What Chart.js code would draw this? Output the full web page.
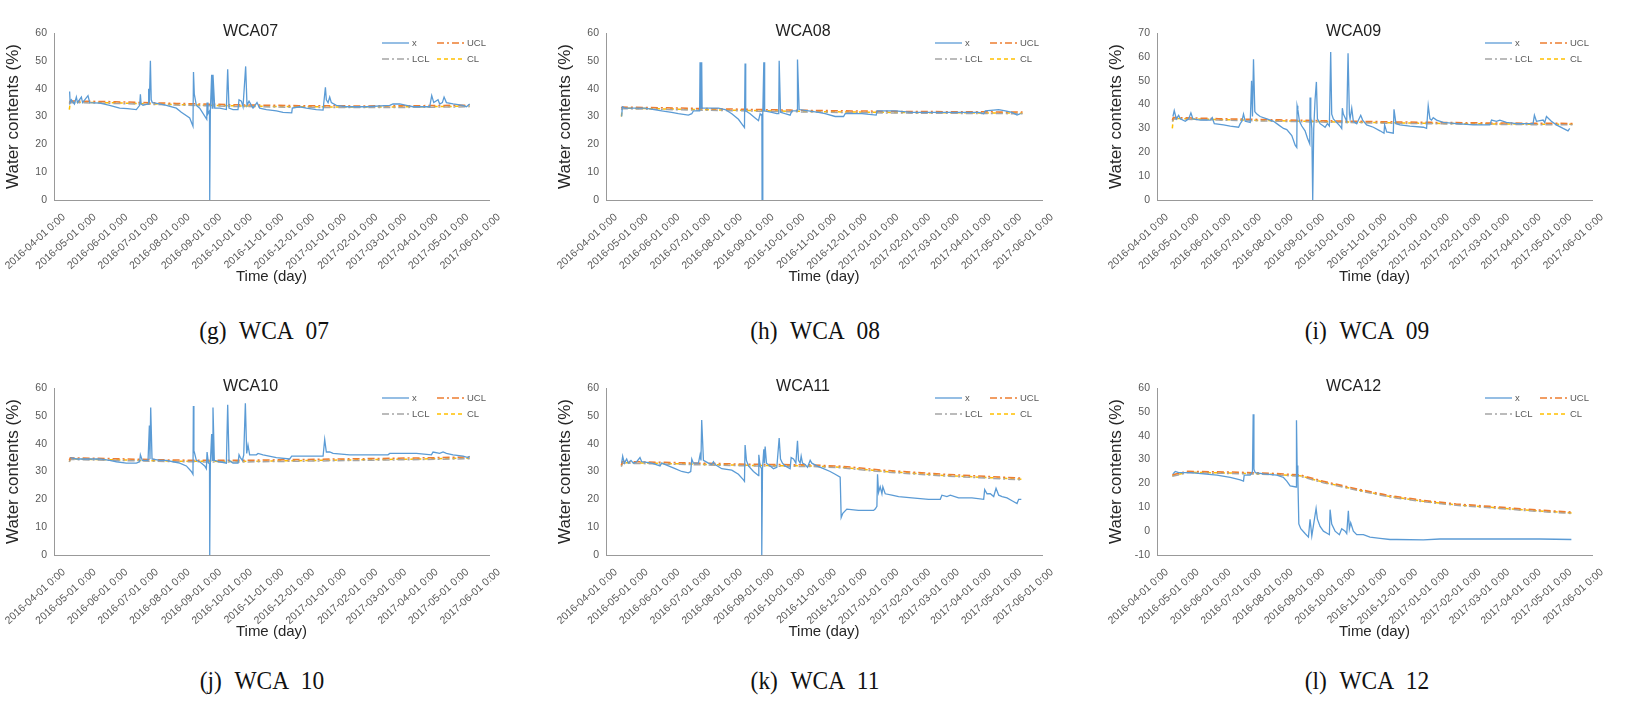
<!DOCTYPE html>
<html>
<head>
<meta charset="utf-8">
<script src="https://cdn.jsdelivr.net/npm/chart.js@4.4.0/dist/chart.umd.min.js"></script>
<style>
  html, body { margin: 0; padding: 0; background: #fff; }
  body { width: 1635px; height: 720px; position: relative; overflow: hidden; }
  .panel { position: absolute; width: 545px; height: 300px; }
  .caption {
    position: absolute; transform: translateX(-50%) scaleX(0.9); white-space: nowrap;
    font-family: "Liberation Serif", "DejaVu Serif", serif; font-size: 26px;
    word-spacing: 8px; line-height: 1; color: #111;
  }
</style>
</head>
<body>
<div class="panel" style="left:0;top:0"><canvas id="wca07" width="545" height="300"></canvas></div>
<div class="panel" style="left:545px;top:0"><canvas id="wca08" width="545" height="300"></canvas></div>
<div class="panel" style="left:1090px;top:0"><canvas id="wca09" width="545" height="300"></canvas></div>
<div class="panel" style="left:0;top:355px"><canvas id="wca10" width="545" height="300"></canvas></div>
<div class="panel" style="left:545px;top:355px"><canvas id="wca11" width="545" height="300"></canvas></div>
<div class="panel" style="left:1090px;top:355px"><canvas id="wca12" width="545" height="300"></canvas></div>

<div class="caption" style="left:264px;top:318px">(g) WCA 07</div>
<div class="caption" style="left:815px;top:318px">(h) WCA 08</div>
<div class="caption" style="left:1367px;top:318px">(i) WCA 09</div>
<div class="caption" style="left:262px;top:668px">(j) WCA 10</div>
<div class="caption" style="left:815px;top:668px">(k) WCA 11</div>
<div class="caption" style="left:1367px;top:668px">(l) WCA 12</div>

<script>
// x axis: days since 2016-04-01, one tick per month start
const monthDays = [0, 30, 61, 91, 122, 153, 183, 214, 244, 275, 306, 334, 365, 395, 426];
const monthLabels = [
    '2016-04-01 0:00', '2016-05-01 0:00', '2016-06-01 0:00', '2016-07-01 0:00', '2016-08-01 0:00',
    '2016-09-01 0:00', '2016-10-01 0:00', '2016-11-01 0:00', '2016-12-01 0:00', '2017-01-01 0:00',
    '2017-02-01 0:00', '2017-03-01 0:00', '2017-04-01 0:00', '2017-05-01 0:00', '2017-06-01 0:00'
];
const legendNames = ['x', 'UCL', 'LCL', 'CL'];

// WCA07
const days07 = [
    15.3, 15.8, 17, 20, 21.9, 23, 26.8, 28, 33.3, 35,
    45, 54.5, 64.3, 72, 80.6, 83.9, 84.6, 85.3, 87.2, 92.2,
    92.7, 93.4, 94.4, 95.2, 96.3, 103.5, 110, 119.8, 124.7, 132.9,
    136.1, 136.6, 137.4, 139.4, 142.7, 149.6, 149.9, 150.8, 152.3, 152.5,
    153.1, 154.4, 155, 155.7, 157.4, 162.3, 168.8, 170.1, 171.4, 175.3,
    180.2, 181.2, 183.5, 185.1, 187.7, 189, 191, 193.3, 194.9, 198.8,
    201.4, 208, 217.8, 224.3, 232.8, 233.4, 240.6, 247.1, 256.9, 263.5,
    265.8, 266.7, 268.4, 270, 271.6, 276.5, 286.3, 305.9, 328.8, 332,
    338.6, 345.1, 351.6, 367.9, 369.9, 371.9, 376.1, 377.7, 380.3, 382,
    384.3, 390.8, 400.6, 403.9, 407.1
];
const water07 = [
    39, 35, 36, 34.5, 37, 35, 37, 35, 37.5, 35,
    34.8, 34, 33, 32.8, 32.5, 34, 38, 34.5, 34, 34.5,
    40, 35, 50, 36, 35, 34.5, 34, 33, 31.5, 29.5,
    26.5, 46, 38, 34, 33, 29, 35, 31, 32, 0,
    32, 45, 33, 45, 33, 33, 32.5, 47, 33, 32.5,
    32.5, 36, 35.5, 33.5, 48, 34, 35.5, 34, 33, 35,
    33, 32.5, 32, 31.5, 31.3, 33, 33.5, 33, 32.5, 32.3,
    40.5, 36, 35, 37, 35, 34, 33.5, 33.5, 34, 34.5,
    34.5, 34, 33.5, 33.5, 37.5, 35, 36, 34.5, 35, 37,
    35, 34.5, 34, 33.5, 34.5
];
const ctrlDays07 = [15, 16, 60, 120, 180, 240, 300, 360, 407];
const ucl07 = [35.0, 35.6, 35.3, 34.7, 34.2, 33.9, 33.8, 33.9, 34.1];
const lcl07 = [34.4, 35.0, 34.7, 34.1, 33.6, 33.3, 33.2, 33.3, 33.5];
const cl07 = [32.5, 35.2, 34.9, 34.3, 33.8, 33.5, 33.4, 33.5, 33.7];

// WCA08
const days08 = [
    15.3, 16, 18.6, 38.1, 54.4, 64.2, 70.7, 80.5, 83.8, 85.4,
    90.3, 91.5, 91.9, 92.3, 93.1, 93.5, 93.9, 95.2, 103.3, 109.8,
    116.4, 122.9, 129.4, 135.3, 135.9, 136.5, 140.8, 145.7, 149, 150.6,
    151.6, 152.3, 152.5, 153.2, 154.2, 154.5, 154.8, 155.2, 162, 166.9,
    168.8, 169.2, 170.5, 175, 179.9, 181.6, 184.8, 186.7, 187.1, 188.7,
    197.8, 207.6, 214.1, 223.9, 232.1, 233.7, 250, 264, 265, 282.6,
    298.9, 331.5, 364.1, 369, 370.6, 383.6, 390.2, 396.7, 401.6, 404.9
];
const water08 = [
    30, 33.5, 33, 33, 32, 31.5, 31, 30.5, 31, 32,
    32, 32, 49.5, 33, 33, 49.5, 33, 33, 33, 33,
    32.5, 31, 29, 26, 49, 32, 31, 29.5, 28.5, 31,
    30.5, 31, 0, 31, 49.5, 32, 49.5, 32, 31.5, 31,
    31, 50, 31.5, 31, 30.5, 32, 32, 32, 50.5, 32.5,
    32, 31.5, 31, 30, 30, 31, 31, 30.5, 32, 32,
    31.5, 31.5, 31.5, 31, 32, 32.5, 32, 31.5, 30.5, 31
];
const ctrlDays08 = [15, 16, 60, 120, 180, 240, 300, 360, 407];
const ucl08 = [33.0, 33.4, 33.1, 32.7, 32.3, 32.0, 31.8, 31.7, 31.6];
const lcl08 = [32.4, 32.8, 32.5, 32.1, 31.7, 31.4, 31.2, 31.1, 31.0];
const cl08 = [30.0, 33.0, 32.7, 32.3, 31.9, 31.6, 31.4, 31.3, 31.2];

// WCA09
const days09 = [
    15.6, 16.9, 18.9, 21.2, 22.8, 27.7, 31, 33.2, 35.2, 42.4,
    52.2, 54.1, 56.1, 65.2, 71.7, 79.9, 81.5, 83.1, 84.7, 86.4,
    91.3, 92.6, 93.5, 94.5, 95.8, 97.8, 101, 107.6, 114.1, 119,
    123.9, 127.1, 132, 135.3, 136.9, 137.2, 137.9, 139.5, 141.8, 145,
    147.3, 149.6, 149.9, 150.6, 151.6, 152.5, 153.5, 154.8, 156.1, 157.1,
    159.7, 163, 164.6, 166.9, 168.8, 170.1, 171.1, 172.7, 179.3, 180.9,
    181.5, 182.5, 184.2, 185.8, 187.1, 188.4, 189.1, 190.7, 192.3, 195.6,
    199.5, 201.4, 205.3, 211.9, 218.4, 222.3, 222.9, 224.9, 231.4, 232.1,
    234, 237.9, 247.7, 260.8, 264, 265.6, 267.3, 268.9, 270.5, 273.8,
    280.3, 293.4, 309.6, 325.9, 327.6, 332.5, 335.7, 342.2, 352, 368.3,
    369.6, 371.6, 378.1, 379.7, 381.4, 386.2, 391.1, 397.7, 402.5, 404.2
];
const water09 = [
    35, 37.5, 34, 35.5, 34, 33, 34, 36.5, 34, 33.5,
    33.5, 34.5, 32, 31.5, 31, 30.5, 32, 33, 36, 33,
    32.5, 50, 35, 59, 37, 36, 35, 34, 33, 31.5,
    30, 29.5, 27, 23, 22, 39.5, 38, 33, 31, 29,
    26, 23.5, 43, 35, 30, 0, 30, 42, 49.5, 34,
    32, 31, 30.5, 32, 31, 62, 36, 34, 31, 30,
    38.5, 36, 34.5, 33, 61.5, 36, 34, 38.5, 33, 32,
    35.5, 33.5, 31.5, 30.5, 29, 28, 31.5, 28.5, 28, 38,
    32, 31.5, 31, 30.5, 30, 39.5, 34, 33.5, 34.5, 33.5,
    32.5, 32, 31.5, 31.5, 33.5, 33, 33.5, 32.5, 32, 32,
    35.5, 33, 33.5, 32.5, 35, 33, 31.5, 30, 29, 30
];
const ctrlDays09 = [15, 16, 60, 120, 180, 240, 300, 360, 407];
const ucl09 = [33.5, 34.6, 34.1, 33.6, 33.1, 32.7, 32.4, 32.2, 32.1];
const lcl09 = [32.9, 34.0, 33.5, 33.0, 32.5, 32.1, 31.8, 31.6, 31.5];
const cl09 = [30.0, 34.2, 33.7, 33.2, 32.7, 32.3, 32.0, 31.8, 31.7];

// WCA10
const days10 = [
    16, 21.9, 44.7, 54.5, 61.1, 70.8, 80.6, 83.9, 84.6, 86.5,
    92.1, 93.4, 94, 94.7, 96, 103.5, 110, 116.6, 123.1, 129.6,
    134.5, 136.1, 136.5, 137, 137.4, 139.4, 142.7, 147.6, 149.2, 149.9,
    151.2, 152.3, 152.5, 153.1, 154.4, 155, 155.7, 157, 162.3, 168.8,
    170.1, 171.4, 175.3, 180.2, 181.2, 182.5, 184.5, 185.8, 187.4, 188.7,
    190, 191.6, 198.2, 199.8, 204.7, 217.8, 230.8, 232.8, 240.6, 263.5,
    265.1, 266.7, 270, 273.3, 289.6, 305.9, 327.1, 328.8, 354.9, 369.6,
    371.2, 377.7, 381, 384.3, 390.8, 400.6, 405.5, 407.1
];
const water10 = [
    35, 34.5, 34.5, 34, 33.5, 33, 33, 33.5, 36, 34,
    34, 46.5, 34.5, 53, 34.5, 34, 34, 33.5, 33, 32,
    30, 29, 53.5, 37, 37, 34, 33.5, 32, 31, 37,
    33, 33, 0, 33, 43.5, 34, 53, 34, 33.5, 33,
    54, 34, 33, 33, 36, 35, 34, 36, 54.5, 36.5,
    39.5, 36, 36, 36.5, 36, 35, 34.5, 35.5, 35.5, 35.5,
    41.5, 37, 37, 36.5, 36, 36, 36, 36.5, 36.5, 36,
    37, 36.5, 37, 36.5, 36, 35.5, 35, 35.5
];
const ctrlDays10 = [15, 16, 60, 120, 180, 240, 300, 360, 407];
const ucl10 = [34.0, 34.9, 34.6, 34.1, 34.0, 34.3, 34.6, 34.9, 35.2];
const lcl10 = [33.4, 34.3, 34.0, 33.5, 33.4, 33.7, 34.0, 34.3, 34.6];
const cl10 = [33.5, 34.5, 34.2, 33.7, 33.6, 33.9, 34.2, 34.5, 34.8];

// WCA11
const days11 = [
    15.3, 16.3, 17.9, 20.2, 21.8, 24.4, 26.7, 30, 33.2, 34.9,
    44.7, 52.8, 54.4, 61, 67.5, 74, 80.5, 82.8, 83.8, 85.4,
    90.3, 91.9, 92.8, 93.5, 95.2, 100.1, 103.3, 105, 106.6, 113.1,
    122.9, 129.4, 134.3, 135.3, 135.9, 137.2, 139.2, 144.1, 147.4, 149,
    149.3, 150.6, 152, 152.2, 152.9, 154.2, 154.8, 155.5, 156.8, 160.4,
    163.6, 166.9, 169.2, 170.5, 172.4, 175, 179.9, 180.9, 183.2, 185.5,
    187.1, 188.1, 189.7, 190.7, 192, 194.6, 196.9, 199.5, 201.1, 206,
    212.5, 219, 223.9, 228.8, 229.8, 231.4, 235.3, 246.7, 261.4, 263,
    264.7, 265.3, 266.3, 267.9, 269.6, 270.5, 272.8, 279.3, 285.9, 298.9,
    315.2, 326.6, 328.2, 333.1, 336.4, 344.5, 357.6, 369, 370, 372.3,
    375.5, 378.8, 381.1, 383.7, 387, 391.8, 396.7, 401.6, 403.2, 405.8
];
const water11 = [
    33, 35.5, 33, 34.5, 33, 34, 33, 33.5, 35, 33.5,
    33, 32, 33, 32, 31, 30, 29.5, 30, 34.5, 33,
    33, 36, 34, 48.5, 34, 33, 32.5, 33.5, 32.5, 31,
    30.5, 29, 27, 26.5, 39.5, 34, 32, 30, 29, 28.5,
    36, 32, 31, 0, 31, 38, 33, 39, 33, 32,
    31, 31.5, 42, 34.5, 33, 32, 31, 35, 34.5, 33,
    41, 34, 33, 35.5, 33, 32.5, 31.5, 34, 33, 32,
    31, 30, 29, 28, 13.5, 15, 16.5, 16, 16, 16.5,
    17.5, 29, 22.5, 24.5, 22, 24.5, 22, 21.5, 21, 20.5,
    20, 20, 21.5, 21, 21.5, 20.5, 20.5, 20, 23.5, 22,
    22, 21, 24, 21.5, 21, 20.5, 19.5, 18.5, 20, 20
];
const ctrlDays11 = [15, 16, 80, 140, 200, 230, 270, 330, 407];
const ucl11 = [32.3, 33.6, 33.1, 32.6, 32.4, 31.9, 30.5, 29.0, 27.6];
const lcl11 = [31.7, 33.0, 32.5, 32.0, 31.8, 31.3, 29.9, 28.4, 27.0];
const cl11 = [32.0, 33.2, 32.7, 32.2, 32.0, 31.5, 30.1, 28.6, 27.2];

// WCA12
const days12 = [
    15.6, 17.9, 21.2, 32.6, 45.6, 58.7, 71.7, 81.5, 84.7, 85.4,
    91.3, 93.5, 94.2, 94.9, 96.2, 104.3, 117.3, 123.9, 127.1, 130.4,
    136.2, 136.6, 137.2, 137.9, 138.9, 140.8, 145, 148.3, 149.9, 151.6,
    153.8, 155.8, 157.1, 159.7, 163, 166.9, 168.8, 169.5, 171.1, 174.4,
    178.6, 180.9, 184.2, 185.8, 187.4, 188.4, 189.7, 192.3, 195.6, 202.1,
    208.6, 218.4, 228.2, 234.7, 260.8, 277, 325.9, 374.8, 405.8
];
const water12 = [
    24, 25, 24.5, 24.5, 24, 23.5, 22.5, 21.5, 21, 23.5,
    23.5, 25, 49, 26, 24.5, 24, 23.5, 22.5, 21, 19,
    18.5, 46.5, 27.5, 23, 3, 1, -1, -2.5, 5, -2,
    4, 9.5, 5, 2, 0, -1, -1.5, 9, 3, 0,
    -1.5, 1, 0, -1, 8.5, 1, 3.5, 0, -1.5, -1.5,
    -2.5, -3, -3.5, -3.5, -3.7, -3.3, -3.3, -3.3, -3.5
];
const ctrlDays12 = [15, 30, 80, 110, 140, 163, 196, 228, 261, 293, 326, 359, 406];
const ucl12 = [23.6, 25.1, 24.7, 24.3, 23.6, 20.9, 17.7, 14.9, 12.9, 11.4, 10.4, 9.3, 8.0];
const lcl12 = [23.0, 24.5, 24.1, 23.7, 23.0, 20.3, 17.1, 14.3, 12.3, 10.8, 9.8, 8.7, 7.4];
const cl12 = [23.2, 24.7, 24.3, 23.9, 23.2, 20.5, 17.3, 14.5, 12.5, 11.0, 10.0, 8.9, 7.6];

Chart.defaults.font.family = '"Liberation Sans", Arial, sans-serif';

function toPoints(xs, ys) {
    return xs.map((d, i) => ({ x: d, y: ys[i] }));
}

// Title and the 2x2 legend sit inside the plot area, so they are drawn by hand
const panelDeco = {
    id: 'panelDeco',
    afterDraw(chart, args, opts) {
        const { ctx, chartArea } = chart;
        ctx.save();
        ctx.font = '16px "Liberation Sans", Arial, sans-serif';
        ctx.fillStyle = '#222';
        ctx.textAlign = 'center';
        ctx.textBaseline = 'middle';
        ctx.fillText(opts.title, (chartArea.left + chartArea.right) / 2 - 21, 32);

        ctx.font = '9.5px "Liberation Sans", Arial, sans-serif';
        ctx.textAlign = 'left';
        const colX = [chartArea.right - 107, chartArea.right - 52];
        const rowY = [43, 59];
        chart.data.datasets.forEach((ds, i) => {
            const x0 = colX[i % 2];
            const y0 = rowY[Math.floor(i / 2)];
            ctx.strokeStyle = ds.borderColor;
            ctx.lineWidth = ds.borderWidth;
            ctx.setLineDash(ds.borderDash || []);
            ctx.beginPath();
            ctx.moveTo(x0, y0);
            ctx.lineTo(x0 + 27, y0);
            ctx.stroke();
            ctx.setLineDash([]);
            ctx.fillStyle = '#595959';
            ctx.fillText(legendNames[i], x0 + 30, y0);
        });
        ctx.restore();
    }
};

function makePanel(id, p) {
    const canvas = document.getElementById(id);
    if (!canvas) return;

    new Chart(canvas, {
        type: 'line',
        data: {
            datasets: [
                { label: 'x', data: toPoints(p.days, p.water), borderColor: '#5B9BD5', borderWidth: 1.3 },
                { label: 'UCL', data: toPoints(p.ctrlDays, p.ucl), borderColor: '#ED7D31', borderWidth: 1.5, borderDash: [7, 3, 2, 3] },
                { label: 'LCL', data: toPoints(p.ctrlDays, p.lcl), borderColor: '#A5A5A5', borderWidth: 1.5, borderDash: [7, 3, 2, 3] },
                { label: 'CL', data: toPoints(p.ctrlDays, p.cl), borderColor: '#FFC000', borderWidth: 1.5, borderDash: [4, 3] }
            ]
        },
        options: {
            responsive: false,
            animation: false,
            elements: { point: { radius: 0 }, line: { tension: 0, fill: false } },
            layout: { padding: { left: 0, top: 33, right: 545 - p.right, bottom: 0 } },
            plugins: {
                legend: { display: false },
                tooltip: { enabled: false },
                panelDeco: { title: p.title }
            },
            scales: {
                x: {
                    type: 'linear',
                    min: 0,
                    max: 426,
                    afterBuildTicks: (axis) => { axis.ticks = monthDays.map(v => ({ value: v })); },
                    afterFit: (axis) => { axis.height = 100; axis.paddingLeft = 0; axis.paddingRight = 0; },
                    ticks: {
                        autoSkip: false,
                        minRotation: 42,
                        maxRotation: 42,
                        padding: 11,
                        labelOffset: 10,
                        color: '#595959',
                        font: { size: 10.5 },
                        callback: (v, i) => monthLabels[i]
                    },
                    grid: { display: false, drawTicks: false },
                    border: { color: '#999', width: 1 },
                    title: {
                        display: true,
                        text: 'Time (day)',
                        color: '#262626',
                        font: { size: 15 },
                        padding: { top: 0, bottom: 14 }
                    }
                },
                y: {
                    min: p.yMin,
                    max: p.yMax,
                    afterFit: (axis) => { axis.width = p.left; },
                    ticks: { stepSize: 10, padding: 7, color: '#595959', font: { size: 10.5 } },
                    grid: { display: false, drawTicks: false },
                    border: { color: '#999', width: 1 },
                    title: {
                        display: true,
                        text: 'Water contents (%)',
                        color: '#262626',
                        font: { size: 17 },
                        padding: { top: p.left - 51.2, bottom: 0 }
                    }
                }
            }
        },
        plugins: [panelDeco]
    });
}

makePanel('wca07', { title: 'WCA07', left: 54, right: 489, yMin: 0, yMax: 60,
    days: days07, water: water07, ctrlDays: ctrlDays07, ucl: ucl07, lcl: lcl07, cl: cl07 });
makePanel('wca08', { title: 'WCA08', left: 61, right: 497, yMin: 0, yMax: 60,
    days: days08, water: water08, ctrlDays: ctrlDays08, ucl: ucl08, lcl: lcl08, cl: cl08 });
makePanel('wca09', { title: 'WCA09', left: 67, right: 502, yMin: 0, yMax: 70,
    days: days09, water: water09, ctrlDays: ctrlDays09, ucl: ucl09, lcl: lcl09, cl: cl09 });
makePanel('wca10', { title: 'WCA10', left: 54, right: 489, yMin: 0, yMax: 60,
    days: days10, water: water10, ctrlDays: ctrlDays10, ucl: ucl10, lcl: lcl10, cl: cl10 });
makePanel('wca11', { title: 'WCA11', left: 61, right: 497, yMin: 0, yMax: 60,
    days: days11, water: water11, ctrlDays: ctrlDays11, ucl: ucl11, lcl: lcl11, cl: cl11 });
makePanel('wca12', { title: 'WCA12', left: 67, right: 502, yMin: -10, yMax: 60,
    days: days12, water: water12, ctrlDays: ctrlDays12, ucl: ucl12, lcl: lcl12, cl: cl12 });
</script>
</body>
</html>
